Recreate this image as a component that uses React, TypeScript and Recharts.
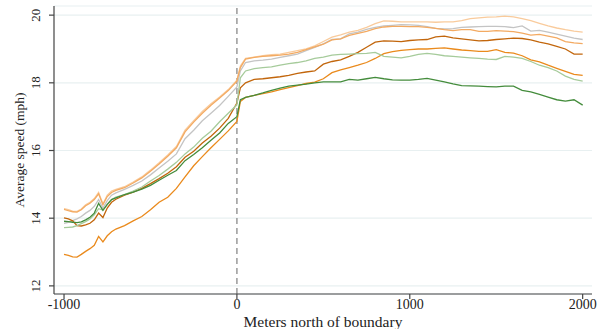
import { LineChart, Line, XAxis, YAxis, CartesianGrid, ReferenceLine } from "recharts";

const FONT = "'Liberation Serif', 'Times New Roman', serif";

// distance north of boundary (m)
const meters = [
  -1000, -975, -950, -925, -900, -875, -850, -825, -800, -775, -750, -725, -700,
  -650, -600, -550, -500, -450, -400, -350, -300, -250, -200, -150, -100, -50, 0,
  20,
  50, 100, 150, 200, 250, 300, 350, 400, 450, 500,
  550, 600, 650, 700, 750, 800, 850, 900, 950, 1000,
  1050, 1100, 1150, 1200, 1250, 1300, 1350, 1400, 1450, 1500,
  1550, 1600, 1650, 1700, 1750, 1800, 1850, 1900, 1950, 2000,
];

const peach = [
  14.28, 14.25, 14.21, 14.2, 14.27, 14.4, 14.47, 14.58, 14.76, 14.42, 14.68, 14.8, 14.85,
  14.93, 15.07, 15.22, 15.42, 15.64, 15.87, 16.12, 16.6, 16.88, 17.15, 17.38, 17.58, 17.8, 18.08,
  18.5,
  18.72, 18.76, 18.8, 18.83, 18.85, 18.9, 18.95, 19.0, 19.09, 19.22,
  19.35, 19.42, 19.5, 19.55, 19.64, 19.75, 19.83, 19.82, 19.8, 19.8,
  19.8, 19.8, 19.79, 19.8, 19.8, 19.84, 19.9, 19.92, 19.94, 19.95,
  19.97, 19.95, 19.9, 19.84, 19.76, 19.68, 19.62, 19.57, 19.53, 19.5,
];

const gray = [
  13.85, 13.88, 13.93, 13.98, 14.05, 14.15, 14.23, 14.35, 14.55, 14.3, 14.52, 14.68, 14.75,
  14.85, 14.97, 15.1, 15.28, 15.48, 15.68, 15.9, 16.35, 16.6, 16.88, 17.1, 17.33, 17.6, 17.88,
  18.35,
  18.6, 18.65, 18.67, 18.7, 18.75, 18.8, 18.85, 18.95, 19.05, 19.15,
  19.28, 19.3, 19.45, 19.5, 19.58, 19.64, 19.68, 19.7, 19.72, 19.71,
  19.7, 19.66, 19.61, 19.59, 19.6, 19.64, 19.65, 19.66, 19.67, 19.67,
  19.66, 19.63, 19.68, 19.53, 19.55, 19.5, 19.44, 19.38, 19.32, 19.28,
];

const lightOrange = [
  14.26, 14.22, 14.19, 14.18, 14.25, 14.37, 14.44, 14.55, 14.72, 14.4, 14.64, 14.76, 14.82,
  14.9, 15.04, 15.19, 15.39, 15.6, 15.83, 16.08, 16.55, 16.84, 17.1, 17.34, 17.55, 17.77, 18.05,
  18.45,
  18.7, 18.75, 18.78, 18.8, 18.82, 18.85, 18.9, 18.98, 19.06, 19.14,
  19.27, 19.3, 19.4, 19.46, 19.52, 19.6, 19.65, 19.67, 19.67, 19.66,
  19.66, 19.64, 19.61, 19.57, 19.54, 19.57, 19.57, 19.52, 19.52, 19.54,
  19.53, 19.51, 19.47, 19.41, 19.43, 19.38, 19.33, 19.22, 19.18, 19.16,
];

const brown = [
  14.01, 13.98, 13.92, 13.78, 13.77, 13.8, 13.85, 13.95, 14.15, 14.02, 14.3, 14.47, 14.56,
  14.68, 14.77, 14.88, 15.02, 15.17, 15.33, 15.52, 15.8, 15.98, 16.22, 16.42, 16.66, 16.95, 17.4,
  17.85,
  18.0, 18.1, 18.12, 18.15, 18.18, 18.22, 18.28, 18.32, 18.35, 18.55,
  18.63, 18.68, 18.78, 18.9, 19.05, 19.2, 19.24, 19.23, 19.22, 19.25,
  19.27, 19.28, 19.36, 19.38, 19.33, 19.3, 19.27, 19.24, 19.25, 19.28,
  19.3, 19.32, 19.31, 19.27, 19.2, 19.15, 19.08, 19.0, 18.85, 18.85,
];

const orange = [
  12.93, 12.9, 12.86, 12.85, 12.93, 13.02, 13.1, 13.2, 13.46, 13.3, 13.48, 13.6, 13.68,
  13.78, 13.92, 14.05, 14.25, 14.47, 14.62, 14.88, 15.22, 15.55, 15.82, 16.08, 16.33, 16.58, 16.86,
  17.45,
  17.57, 17.63, 17.68, 17.73, 17.8, 17.86, 17.92, 17.98, 18.02, 18.12,
  18.3, 18.38, 18.45, 18.52, 18.6, 18.72, 18.86, 18.92, 18.96, 18.98,
  19.0, 19.0, 19.02, 19.03, 19.0, 18.97, 18.95, 18.93, 18.93, 18.98,
  18.9, 18.88, 18.8, 18.68, 18.62, 18.52, 18.43, 18.34, 18.25, 18.22,
];

const lightGreen = [
  13.72, 13.73, 13.74, 13.78, 13.84, 13.9, 13.98, 14.1, 14.28, 14.24, 14.4, 14.55, 14.62,
  14.7, 14.8, 14.92, 15.1, 15.26, 15.45, 15.65, 15.9, 16.1, 16.36, 16.57, 16.85, 17.1, 17.35,
  18.15,
  18.35, 18.42, 18.45, 18.47, 18.52, 18.57, 18.6, 18.65, 18.72, 18.76,
  18.82, 18.84, 18.85, 18.86, 18.87, 18.9, 18.78, 18.76, 18.74, 18.78,
  18.84, 18.87, 18.84, 18.8, 18.78, 18.76, 18.74, 18.72, 18.7, 18.69,
  18.78, 18.76, 18.72, 18.63, 18.52, 18.45, 18.35, 18.2, 18.1, 18.05,
];

const darkGreen = [
  13.91, 13.9, 13.88, 13.87, 13.89, 13.95, 14.03, 14.15, 14.44, 14.23, 14.41, 14.55, 14.6,
  14.7, 14.77, 14.86, 14.97, 15.12, 15.27, 15.41, 15.7, 15.88, 16.08, 16.3, 16.52, 16.8, 17.0,
  17.5,
  17.57, 17.63, 17.7, 17.78, 17.84, 17.9, 17.93, 17.96, 18.0, 18.03,
  18.03, 18.03, 18.1, 18.08, 18.12, 18.16, 18.12, 18.09, 18.08, 18.08,
  18.1, 18.13, 18.08, 18.03, 17.97, 17.92, 17.91, 17.9, 17.89, 17.88,
  17.9, 17.9, 17.78, 17.73, 17.66, 17.58, 17.5, 17.46, 17.5, 17.34,
];

const xTicks = [-1000, 0, 1000, 2000];
const yTicks = [12, 14, 16, 18, 20];

const SERIES = [
  { key: "peach", values: peach, color: "#f9cb9c" },
  { key: "gray", values: gray, color: "#c4c4c4" },
  { key: "lightOrange", values: lightOrange, color: "#f3aa62" },
  { key: "brown", values: brown, color: "#c2660c" },
  { key: "orange", values: orange, color: "#ea8a1c" },
  { key: "lightGreen", values: lightGreen, color: "#a6cb9b" },
  { key: "darkGreen", values: darkGreen, color: "#448c3c" },
];

const data = meters.map((m, i) => {
  const row: Record<string, number> = { m };
  SERIES.forEach((s) => { row[s.key] = s.values[i]; });
  return row;
});

function YTick({ x, y, payload }: any) {
  const tx = x - 9;
  return (
    <text x={tx} y={y} transform={`rotate(-90 ${tx} ${y})`} textAnchor="middle"
      fontFamily={FONT} fontSize={13} fill="#222">
      {payload.value}
    </text>
  );
}

function YLabel({ viewBox }: any) {
  const cx = viewBox.x + 19;
  const cy = viewBox.y + viewBox.height / 2;
  return (
    <text x={cx} y={cy} transform={`rotate(-90 ${cx} ${cy})`} textAnchor="middle"
      dominantBaseline="central" fontFamily={FONT} fontSize={13.5} fill="#222">
      Average speed (mph)
    </text>
  );
}

export default function App() {
  return (
    <div style={{ width: 608, height: 329, background: "#fff" }}>
      <style>{"body{margin:0}"}</style>
      <LineChart width={608} height={329} data={data} margin={{ top: 6, right: 16, bottom: 0, left: 0 }}>
        <CartesianGrid vertical={false} stroke="#e8f0f1" strokeWidth={1.2} />
        <XAxis dataKey="m" type="number" domain={[-1058, 2054]} ticks={xTicks} interval={0}
          height={35} tickSize={5} tickMargin={0} stroke="#444" strokeWidth={1.2}
          tick={{ fontFamily: FONT, fontSize: 14, fill: "#222" }}
          label={{ value: "Meters north of boundary", position: "insideBottom", offset: 2,
            style: { fontFamily: FONT, fontSize: 15.5, fill: "#222" } }} />
        <YAxis type="number" domain={[11.76, 20.27]} ticks={yTicks} interval={0} width={54}
          tickSize={5} tickMargin={0} stroke="#444" strokeWidth={1.2}
          tick={<YTick />} label={<YLabel />} />
        <ReferenceLine x={0} stroke="#999" strokeWidth={1.5} strokeDasharray="6 4" />
        {SERIES.map((s) => (
          <Line key={s.key} type="linear" dataKey={s.key} stroke={s.color} strokeWidth={1.3}
            dot={false} isAnimationActive={false} />
        ))}
      </LineChart>
    </div>
  );
}
